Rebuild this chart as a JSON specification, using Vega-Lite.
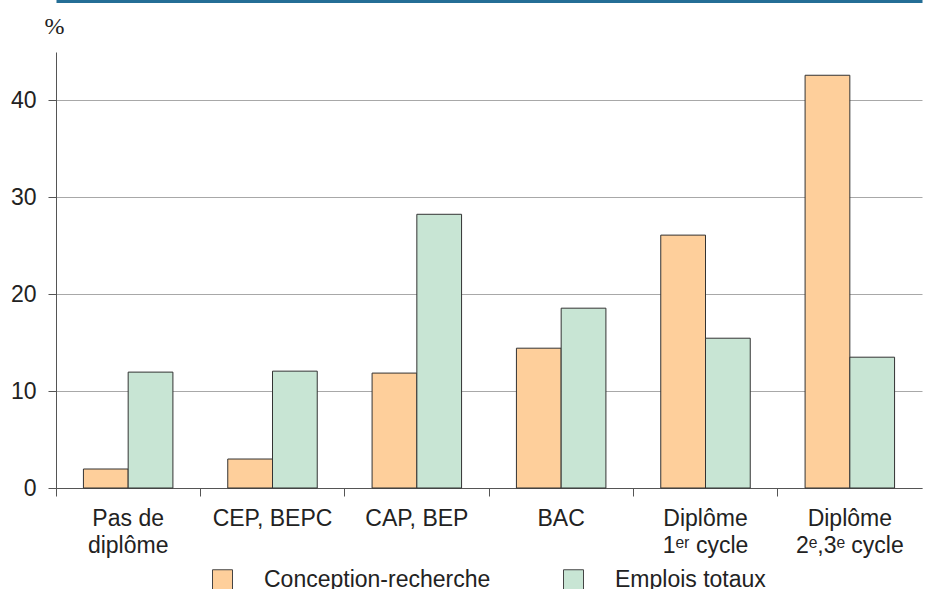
{
  "$schema": "https://vega.github.io/schema/vega-lite/v6.json",
  "width": 866,
  "height": 436,
  "autosize": {"type": "none"},
  "padding": {"left": 56, "top": 52, "right": 4, "bottom": 101},
  "background": "white",
  "data": {
    "values": [
      {"cat": "Pas de|diplôme", "serie": "Conception-recherche", "val": 1.96},
      {"cat": "Pas de|diplôme", "serie": "Emplois totaux", "val": 11.96},
      {"cat": "CEP, BEPC", "serie": "Conception-recherche", "val": 2.99},
      {"cat": "CEP, BEPC", "serie": "Emplois totaux", "val": 12.06},
      {"cat": "CAP, BEP", "serie": "Conception-recherche", "val": 11.86},
      {"cat": "CAP, BEP", "serie": "Emplois totaux", "val": 28.25},
      {"cat": "BAC", "serie": "Conception-recherche", "val": 14.43},
      {"cat": "BAC", "serie": "Emplois totaux", "val": 18.56},
      {"cat": "Diplôme|1ᵉʳ cycle", "serie": "Conception-recherche", "val": 26.1},
      {"cat": "Diplôme|1ᵉʳ cycle", "serie": "Emplois totaux", "val": 15.46},
      {"cat": "Diplôme|2ᵉ,3ᵉ cycle", "serie": "Conception-recherche", "val": 42.6},
      {"cat": "Diplôme|2ᵉ,3ᵉ cycle", "serie": "Emplois totaux", "val": 13.5}
    ]
  },
  "layer": [
    {
      "mark": {"type": "bar", "stroke": "#333333", "strokeWidth": 1},
      "encoding": {
        "x": {
          "field": "cat",
          "type": "nominal",
          "sort": null,
          "scale": {"paddingInner": 0.38, "paddingOuter": 0.19},
          "axis": {
            "orient": "bottom",
            "title": null,
            "labelAngle": 0,
            "labelExpr": "split(datum.label, '|')",
            "labelFont": "Liberation Sans",
            "labelFontSize": 23,
            "labelColor": "#222222",
            "labelLineHeight": 27,
            "labelPadding": 11,
            "labelBaseline": "top",
            "bandPosition": -0.306,
            "tickSize": 8,
            "tickColor": "#555555",
            "domainColor": "#555555",
            "grid": false
          }
        },
        "xOffset": {"field": "serie", "sort": ["Conception-recherche", "Emplois totaux"]},
        "y": {
          "field": "val",
          "type": "quantitative",
          "scale": {"domain": [0, 45], "nice": false},
          "axis": {
            "values": [0, 10, 20, 30, 40],
            "title": "%",
            "titleAngle": 0,
            "titleFont": "Liberation Serif",
            "titleFontSize": 24,
            "titleFontWeight": "normal",
            "titleColor": "#222222",
            "titleX": -2,
            "titleY": -26,
            "titleAlign": "center",
            "titleBaseline": "middle",
            "labelFont": "Liberation Sans",
            "labelFontSize": 23,
            "labelColor": "#222222",
            "labelPadding": 12,
            "tickSize": 8,
            "tickColor": "#555555",
            "domainColor": "#555555",
            "gridColor": "#a8a8a8",
            "grid": true
          }
        },
        "fill": {
          "field": "serie",
          "type": "nominal",
          "scale": {"domain": ["Conception-recherche", "Emplois totaux"], "range": ["#fecf9b", "#c8e5d4"]},
          "legend": {
            "title": null,
            "orient": "none",
            "direction": "horizontal",
            "legendX": 155,
            "legendY": 516,
            "symbolType": "square",
            "symbolSize": 400,
            "symbolStrokeColor": "#444444",
            "symbolStrokeWidth": 1,
            "labelFont": "Liberation Sans",
            "labelFontSize": 23,
            "labelColor": "#222222",
            "labelOffset": 30,
            "columnPadding": 70,
            "labelLimit": 400
          }
        }
      }
    },
    {
      "mark": {"type": "bar", "opacity": 0},
      "encoding": {
        "x": {
          "field": "cat",
          "type": "nominal",
          "sort": null,
          "axis": {
            "orient": "top",
            "title": null,
            "labels": false,
            "ticks": false,
            "grid": false,
            "offset": 51,
            "domainColor": "#246e96",
            "domainWidth": 3
          }
        },
        "y": {"field": "val", "type": "quantitative"}
      }
    }
  ],
  "resolve": {"axis": {"x": "independent"}},
  "config": {"view": {"stroke": null}}
}
